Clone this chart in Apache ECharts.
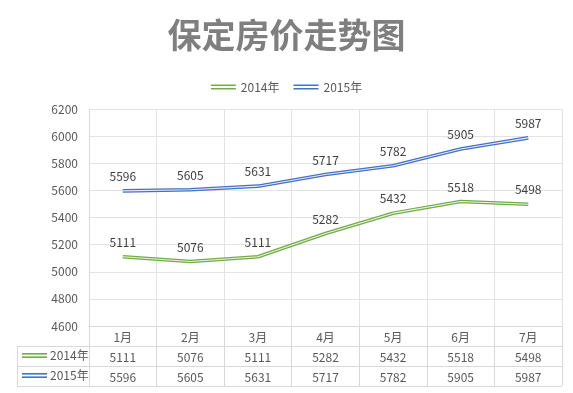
<!DOCTYPE html>
<html><head><meta charset="utf-8">
<script src="https://cdn.jsdelivr.net/npm/echarts@6/dist/echarts.min.js"></script>
<style>html,body{margin:0;padding:0;background:#fff}#c{width:573px;height:393px}</style>
</head><body><div id="c"></div>
<script>
var titleText = '保定房价走势图';
var categories = ['1月','2月','3月','4月','5月','6月','7月'];
var seriesNames = ['2014年','2015年'];
var values2014 = [5111,5076,5111,5282,5432,5518,5498];
var values2015 = [5596,5605,5631,5717,5782,5905,5987];
var yTicks = {min:4600, max:6200, interval:200};

var green = '#70AD47', blue = '#4472C4';
var FF = '"Noto Sans CJK SC", "Microsoft YaHei", sans-serif';
var gridC = '#e3e3e3', tableC = '#d9d9d9';
var icon = 'path://M0,0H25V1.6H0Z M0,3.4H25V5H0Z';

var chart = echarts.init(document.getElementById('c'));

function valueAxis(vals, offset){
  return {
    type:'category', data:categories, position:'bottom', offset:offset, gridIndex:0,
    axisLine:{show:false}, axisTick:{show:false}, splitLine:{show:false},
    axisLabel:{margin:5, color:'#595959', fontSize:12, fontFamily:FF,
      formatter:function(v){ return String(vals[categories.indexOf(v)]); }}
  };
}
function lineSeries(name, vals, color){
  return [{
    name:name, type:'line', data:vals, symbol:'circle', symbolSize:1, showSymbol:true,
    lineStyle:{color:color, width:3.6}, itemStyle:{color:color, opacity:0},
    label:{show:true, position:'top', distance:8, color:'#404040', fontSize:12, fontFamily:FF, opacity:1},
    labelLayout:{hideOverlap:false},
    z:2
  },{
    name:name+'_inner', type:'line', data:vals, symbol:'none', silent:true,
    lineStyle:{color:'rgba(255,255,255,0.85)', width:1.1}, z:3, tooltip:{show:false}
  }];
}

var legendKeys = [];
[[seriesNames[0], green, 355.5],[seriesNames[1], blue, 375.5]].forEach(function(r){
  legendKeys.push({type:'rect', shape:{x:22,y:r[2]-2.5,width:25,height:1.6}, style:{fill:r[1]}});
  legendKeys.push({type:'rect', shape:{x:22,y:r[2]+0.9,width:25,height:1.6}, style:{fill:r[1]}});
  legendKeys.push({type:'text', x:50, y:r[2], style:{text:r[0], fill:'#595959', font:'12px '+FF, verticalAlign:'middle'}});
});
var tableLines = [346, 366, 386].map(function(y){
  return {type:'line', shape:{x1:17,y1:y+0.5,x2:562,y2:y+0.5}, style:{stroke:tableC, lineWidth:1}};
});
tableLines.push({type:'line', shape:{x1:17.5,y1:346,x2:17.5,y2:386}, style:{stroke:tableC, lineWidth:1}});

chart.setOption({
  animation:false,
  title:{text:titleText, left:'center', top:13, textStyle:{fontSize:34, fontWeight:'bold', color:'#7f7f7f', fontFamily:FF}},
  legend:{data:[
      {name:seriesNames[0], itemStyle:{color:green, opacity:1}},
      {name:seriesNames[1], itemStyle:{color:blue, opacity:1}}
    ], top:76, left:'center', icon:icon, itemWidth:25, itemHeight:5, itemGap:14,
    textStyle:{color:'#595959', fontSize:12, fontFamily:FF}},
  grid:{left:89, right:11, top:109, bottom:67},
  xAxis:[{
    type:'category', data:categories, boundaryGap:true,
    axisLine:{show:true, lineStyle:{color:tableC}},
    axisTick:{show:true, length:60, lineStyle:{color:tableC}},
    splitLine:{show:true, lineStyle:{color:gridC}},
    axisLabel:{margin:5, color:'#595959', fontSize:12, fontFamily:FF}
  }, valueAxis(values2014, 20), valueAxis(values2015, 40)],
  yAxis:{
    type:'value', min:yTicks.min, max:yTicks.max, interval:yTicks.interval,
    axisLine:{show:true, lineStyle:{color:tableC}}, axisTick:{show:false},
    splitLine:{show:true, lineStyle:{color:gridC}},
    axisLabel:{margin:11, color:'#595959', fontSize:12, fontFamily:FF, formatter:function(v){return String(v);}}
  },
  series:[].concat(lineSeries(seriesNames[0], values2014, green), lineSeries(seriesNames[1], values2015, blue)),
  graphic:tableLines.concat(legendKeys)
});
</script></body></html>
